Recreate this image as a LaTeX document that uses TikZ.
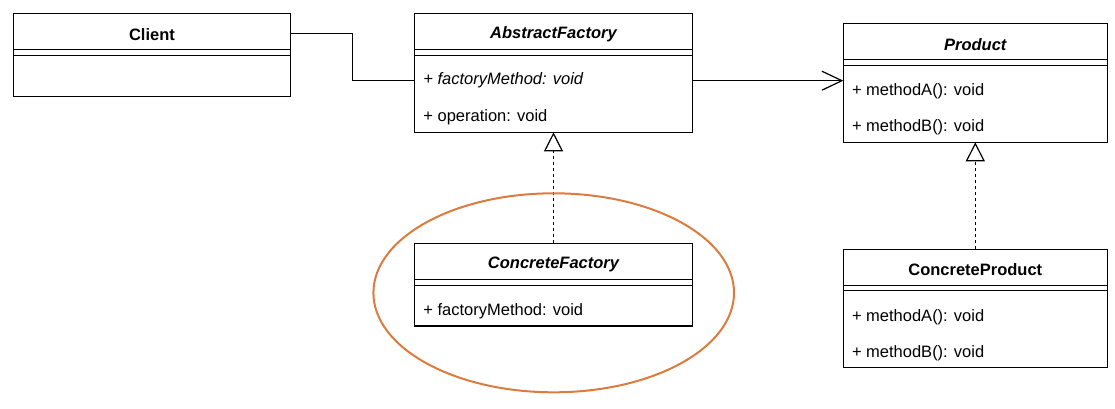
\documentclass[tikz,border=0pt]{standalone}
\usepackage{fontspec}
\setmainfont{Liberation Sans}
\usetikzlibrary{arrows.meta,shapes.geometric}
\definecolor{hlorange}{RGB}{219,124,62}
\begin{document}
\begin{tikzpicture}[x=1pt,y=-1pt,
  font=\fontsize{16.5}{19}\selectfont,
  box/.style={draw, line width=1.2pt, rectangle, inner sep=0pt, outer sep=0pt, anchor=north west},
  ttl/.style={font=\fontsize{16.5}{19}\selectfont\bfseries, inner sep=0pt, anchor=center},
  ittl/.style={font=\fontsize{16.5}{19}\selectfont\bfseries\itshape, inner sep=0pt, anchor=center},
  item/.style={inner sep=0pt, anchor=west},
  sep/.style={line width=1.2pt},
  conn/.style={line width=1.2pt},
  realize/.style={line width=1.2pt, dash pattern=on 3pt off 3pt,
    -{Triangle[open, fill=white, length=19pt, width=19pt, line width=1.2pt]}},
  assoc/.style={line width=1.2pt, -{Straight Barb[length=20pt, width=19pt, line width=1.2pt]}},
]
\useasboundingbox (0,0) rectangle (1115,408);

% Client
\node[box, minimum width=277.4pt, minimum height=83.4pt] (client) at (13.3,13.3) {};
\draw[sep] ([yshift=-36pt]client.north west) -- ([yshift=-36pt]client.north east);
\draw[sep] ([yshift=-42pt]client.north west) -- ([yshift=-42pt]client.north east);
\node[ttl] (clientT) at ([yshift=-21pt]client.north) {Client};

% AbstractFactory
\node[box, minimum width=277.6pt, minimum height=119pt] (af) at (414.7,13.3) {};
\draw[sep] ([yshift=-36pt]af.north west) -- ([yshift=-36pt]af.north east);
\draw[sep] ([yshift=-42pt]af.north west) -- ([yshift=-42pt]af.north east);
\node[ittl] (afT) at ([yshift=-21pt]af.north) {AbstractFactory};
\node[item] (afm1) at ([xshift=8.5pt,yshift=-67.4pt]af.north west) {\itshape + factoryMethod: void};
\node[item] (afm2) at ([xshift=8.5pt,yshift=-103.7pt]af.north west) {+ operation: void};

% Product
\node[box, minimum width=264pt, minimum height=119pt] (product) at (843.3,23.3) {};
\draw[sep] ([yshift=-36pt]product.north west) -- ([yshift=-36pt]product.north east);
\draw[sep] ([yshift=-42pt]product.north west) -- ([yshift=-42pt]product.north east);
\node[ittl] (productT) at ([yshift=-21pt]product.north) {Product};
\node[item] (pm1) at ([xshift=8.5pt,yshift=-68pt]product.north west) {+ methodA(): void};
\node[item] (pm2) at ([xshift=8.5pt,yshift=-103.7pt]product.north west) {+ methodB(): void};

% ConcreteFactory
\node[box, minimum width=277.6pt, minimum height=82.7pt] (cf) at (414.7,243.3) {};
\draw[sep] ([yshift=-36pt]cf.north west) -- ([yshift=-36pt]cf.north east);
\draw[sep] ([yshift=-42pt]cf.north west) -- ([yshift=-42pt]cf.north east);
\node[ittl] (cfT) at ([yshift=-21.5pt]cf.north) {ConcreteFactory};
\node[item] (cfm1) at ([xshift=8.5pt,yshift=-67.7pt]cf.north west) {+ factoryMethod: void};

% ConcreteProduct
\node[box, minimum width=264pt, minimum height=118pt] (cp) at (843.3,249.3) {};
\draw[sep] ([yshift=-36pt]cp.north west) -- ([yshift=-36pt]cp.north east);
\draw[sep] ([yshift=-41pt]cp.north west) -- ([yshift=-41pt]cp.north east);
\node[ttl] (cpT) at ([yshift=-20.5pt]cp.north) {ConcreteProduct};
\node[item] (cpm1) at ([xshift=8.5pt,yshift=-67.7pt]cp.north west) {+ methodA(): void};
\node[item] (cpm2) at ([xshift=8.5pt,yshift=-104.4pt]cp.north west) {+ methodB(): void};

% connectors
\draw[conn] ([yshift=1pt]client.east |- clientT) -- ++(62,0) |- (af.west |- afm1);
\draw[assoc] (af.east |- afm1) -- (product.west |- afm1);
\draw[realize] (cf.north) -- (cf.north |- af.south);
\draw[realize] (cp.north) -- (cp.north |- product.south);

% highlight
\node[draw=hlorange, line width=2pt, ellipse, minimum width=360.6pt, minimum height=199pt, inner sep=0pt] (hl) at (553.7,292.8) {};
\end{tikzpicture}
\end{document}
